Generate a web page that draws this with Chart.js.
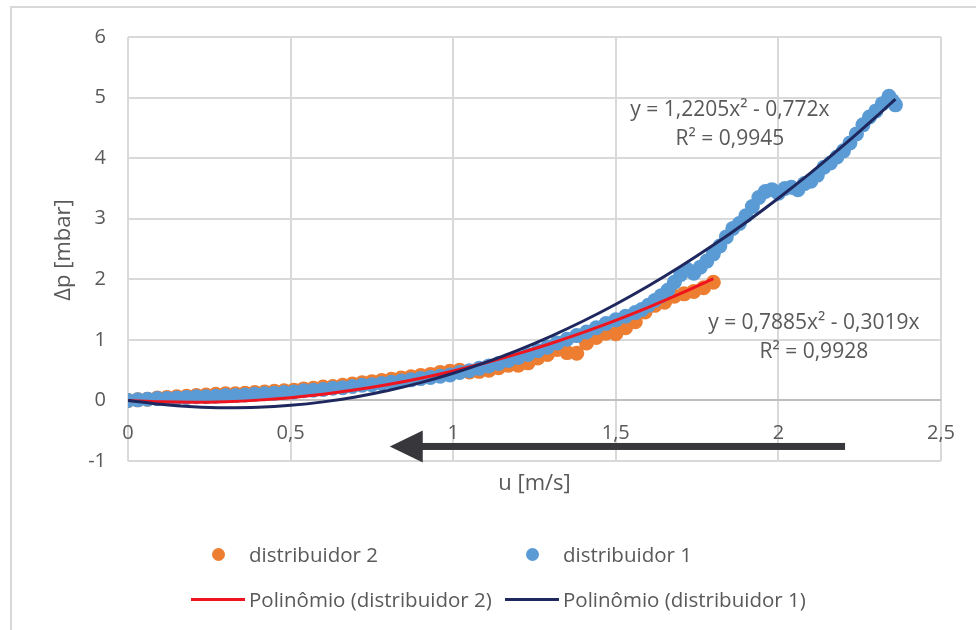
<!DOCTYPE html>
<html>
<head>
<meta charset="utf-8">
<script src="https://cdn.jsdelivr.net/npm/chart.js@4.4.0/dist/chart.umd.min.js"></script>
<style>
  html, body { margin: 0; padding: 0; background: #fff; }
  #wrap { position: relative; width: 976px; height: 630px; overflow: hidden; font-family: 'Open Sans', sans-serif; }
  #frame { position: absolute; left: 10px; top: 6px; width: 1000px; height: 700px; border: 2px solid #d9d9d9; box-sizing: border-box; }
  canvas { position: absolute; left: 0; top: 0; }
  .lg-item { position: absolute; display: flex; align-items: center; height: 28px; color: #595959; font-size: 20.5px; white-space: nowrap; }
  .lg-sym { position: relative; width: 54px; height: 28px; margin-right: 4px; }
  .lg-sym span { position: absolute; }
</style>
</head>
<body>
<div id="wrap">
  <div id="frame"></div>
  <canvas id="chart" width="976" height="630"></canvas>
  <div id="legend"></div>
</div>
<script>
// distribuidor 1 (blue points)
const dist1U = [
  0, 0.03, 0.06, 0.09, 0.12, 0.15, 0.18, 0.21, 0.24, 0.27,
  0.30, 0.33, 0.36, 0.39, 0.42, 0.45, 0.48, 0.51, 0.54, 0.57,
  0.60, 0.63, 0.66, 0.69, 0.72, 0.75, 0.78, 0.81, 0.84, 0.87,
  0.90, 0.93, 0.96, 0.99, 1.02, 1.05, 1.08, 1.11, 1.14, 1.17,
  1.20, 1.23, 1.26, 1.29, 1.32, 1.35, 1.38, 1.41, 1.44, 1.47,
  1.50, 1.53, 1.56, 1.58, 1.60, 1.62, 1.64, 1.66, 1.68, 1.70,
  1.72, 1.74, 1.76, 1.78, 1.80, 1.82, 1.84, 1.86, 1.88, 1.90,
  1.92, 1.94, 1.96, 1.98, 2.00, 2.02, 2.04, 2.06, 2.08, 2.10,
  2.12, 2.14, 2.16, 2.18, 2.20, 2.22, 2.24, 2.26, 2.28, 2.30,
  2.32, 2.34, 2.35, 2.36
];
const dist1Dp = [
  0.00, 0.01, 0.02, 0.03, 0.03, 0.04, 0.05, 0.06, 0.06, 0.07,
  0.08, 0.08, 0.09, 0.10, 0.11, 0.12, 0.13, 0.14, 0.16, 0.17,
  0.18, 0.20, 0.21, 0.23, 0.25, 0.26, 0.28, 0.30, 0.32, 0.34,
  0.36, 0.38, 0.40, 0.42, 0.46, 0.49, 0.53, 0.57, 0.61, 0.66,
  0.71, 0.76, 0.82, 0.88, 0.95, 1.01, 1.07, 1.13, 1.20, 1.27,
  1.33, 1.39, 1.45, 1.50, 1.57, 1.65, 1.73, 1.82, 1.95, 2.08,
  2.16, 2.10, 2.20, 2.30, 2.42, 2.55, 2.70, 2.84, 2.92, 3.05,
  3.20, 3.35, 3.45, 3.48, 3.42, 3.50, 3.52, 3.48, 3.58, 3.62,
  3.72, 3.85, 3.92, 4.02, 4.12, 4.25, 4.40, 4.55, 4.68, 4.78,
  4.90, 5.02, 4.95, 4.88
];

// distribuidor 2 (orange points)
const dist2U = [
  0, 0.03, 0.06, 0.09, 0.12, 0.15, 0.18, 0.21, 0.24, 0.27,
  0.30, 0.33, 0.36, 0.39, 0.42, 0.45, 0.48, 0.51, 0.54, 0.57,
  0.60, 0.63, 0.66, 0.69, 0.72, 0.75, 0.78, 0.81, 0.84, 0.87,
  0.90, 0.93, 0.96, 0.99, 1.02, 1.05, 1.08, 1.11, 1.14, 1.17,
  1.20, 1.23, 1.26, 1.29, 1.32, 1.35, 1.38, 1.41, 1.44, 1.47,
  1.50, 1.53, 1.56, 1.59, 1.62, 1.65, 1.68, 1.71, 1.74, 1.77,
  1.80
];
const dist2Dp = [
  0.00, 0.01, 0.02, 0.04, 0.05, 0.06, 0.07, 0.08, 0.09, 0.10,
  0.11, 0.11, 0.12, 0.13, 0.14, 0.15, 0.16, 0.17, 0.19, 0.20,
  0.22, 0.23, 0.25, 0.27, 0.29, 0.31, 0.33, 0.35, 0.37, 0.39,
  0.41, 0.43, 0.46, 0.48, 0.50, 0.47, 0.48, 0.50, 0.54, 0.58,
  0.58, 0.62, 0.70, 0.76, 0.84, 0.79, 0.78, 0.95, 1.04, 1.11,
  1.10, 1.20, 1.30, 1.46, 1.57, 1.62, 1.72, 1.76, 1.80, 1.86,
  1.95
];

// polynomial trend lines
const fit1U = [0, 0.1, 0.2, 0.3, 0.4, 0.5, 0.6, 0.7, 0.8, 0.9, 1.0, 1.1, 1.2,
  1.3, 1.4, 1.5, 1.6, 1.7, 1.8, 1.9, 2.0, 2.1, 2.2, 2.3, 2.36];
const fit1Dp = [0, -0.065, -0.106, -0.122, -0.114, -0.081, -0.024, 0.058, 0.164,
  0.294, 0.449, 0.628, 0.831, 1.059, 1.311, 1.588, 1.889, 2.215, 2.565, 2.939,
  3.338, 3.761, 4.209, 4.681, 4.976];
const fit2U = [0, 0.1, 0.2, 0.3, 0.4, 0.5, 0.6, 0.7, 0.8, 0.9, 1.0, 1.1, 1.2,
  1.3, 1.4, 1.5, 1.6, 1.7, 1.8];
const fit2Dp = [0, -0.022, -0.029, -0.020, 0.005, 0.046, 0.103, 0.175, 0.263,
  0.367, 0.487, 0.622, 0.773, 0.940, 1.123, 1.321, 1.536, 1.766, 2.011];

const xTicks = [0, 0.5, 1, 1.5, 2, 2.5];
const yTicks = [-1, 0, 1, 2, 3, 4, 5, 6];

const seriesNames = ['distribuidor 2', 'distribuidor 1',
  'Polinômio (distribuidor 2)', 'Polinômio (distribuidor 1)'];
const equationText = [
  ['y = 1,2205x² - 0,772x', 'R² = 0,9945'],
  ['y = 0,7885x² - 0,3019x', 'R² = 0,9928']
];

const textColor = '#595959';
const fontFamily = "'Open Sans', sans-serif";
Chart.defaults.font.family = fontFamily;
Chart.defaults.color = textColor;

function pairs(xs, ys) {
  return xs.map((x, i) => ({ x: x, y: ys[i] }));
}
function fmt(v) {
  return String(v).replace('.', ',');
}

const colors = {
  orange: '#ed7d31',
  blue: '#5b9bd5',
  red: '#f0141e',
  navy: '#1f285e'
};

// trend labels placed at data coordinates
const labelAnchors = [
  { x: 1.851, y: 4.79 },
  { x: 2.109, y: 1.27 }
];
const arrowSpec = { tail: 2.205, tip: 0.805, y: -0.76 };

const overlay = {
  id: 'overlay',
  afterDatasetsDraw(chart) {
    const c = chart.ctx;
    const xs = chart.scales.x, ys = chart.scales.y;
    const area = chart.chartArea;
    c.save();
    // arrow
    const ay = ys.getPixelForValue(arrowSpec.y);
    const tail = xs.getPixelForValue(arrowSpec.tail);
    const tip = xs.getPixelForValue(arrowSpec.tip);
    c.fillStyle = '#38383c';
    c.fillRect(tip + 32, ay - 3.5, tail - tip - 32, 7);
    c.beginPath();
    c.moveTo(tip, ay);
    c.lineTo(tip + 33, ay - 16);
    c.lineTo(tip + 33, ay + 16);
    c.closePath();
    c.fill();

    // equation labels
    c.fillStyle = textColor;
    c.font = '21px ' + fontFamily;
    c.textAlign = 'center';
    c.textBaseline = 'middle';
    labelAnchors.forEach((a, i) => {
      const px = xs.getPixelForValue(a.x);
      const py = ys.getPixelForValue(a.y);
      equationText[i].forEach((t, j) => c.fillText(t, px, py + j * 29));
    });

    // axis titles
    c.font = '22px ' + fontFamily;
    c.fillText('u [m/s]', (area.left + area.right) / 2, area.bottom + 23);
    c.translate(area.left - 64, (area.top + area.bottom) / 2 + 1);
    c.rotate(-Math.PI / 2);
    c.fillText('Δp [mbar]', 0, 0);
    c.restore();
  }
};

const datasets = [
  {
    label: seriesNames[3], data: pairs(fit1U, fit1Dp), showLine: true,
    borderColor: colors.navy, borderWidth: 3, pointRadius: 0, cubicInterpolationMode: 'monotone'
  },
  {
    label: seriesNames[2], data: pairs(fit2U, fit2Dp), showLine: true,
    borderColor: colors.red, borderWidth: 3, pointRadius: 0, cubicInterpolationMode: 'monotone'
  },
  {
    label: seriesNames[1], data: pairs(dist1U, dist1Dp),
    backgroundColor: colors.blue, borderWidth: 0, pointRadius: 7.5
  },
  {
    label: seriesNames[0], data: pairs(dist2U, dist2Dp),
    backgroundColor: colors.orange, borderWidth: 0, pointRadius: 7.5
  }
];

const ctx = document.getElementById('chart').getContext('2d');
new Chart(ctx, {
  type: 'scatter',
  data: { datasets: datasets },
  options: {
    responsive: false,
    animation: false,
    devicePixelRatio: 1,
    layout: { padding: { left: 88, right: 35, top: 37, bottom: 169 } },
    plugins: {
      legend: { display: false },
      tooltip: { enabled: false }
    },
    scales: {
      x: {
        type: 'linear',
        position: { y: 0 },
        min: 0, max: 2.5,
        afterBuildTicks: s => { s.ticks = xTicks.map(v => ({ value: v })); },
        ticks: { padding: 21, color: textColor, font: { size: 20 }, maxRotation: 0, autoSkip: false, callback: v => fmt(v) },
        grid: { color: '#d9d9d9', lineWidth: 2, drawTicks: false },
        border: { display: false }
      },
      y: {
        min: -1, max: 6,
        afterBuildTicks: s => { s.ticks = yTicks.map(v => ({ value: v })); },
        afterFit: s => { s.width = 40; },
        ticks: { padding: 22, color: textColor, font: { size: 20 }, callback: v => fmt(v) },
        grid: {
          color: c => (c.tick && c.tick.value === 0 ? '#bfbfbf' : '#d9d9d9'),
          lineWidth: 2, drawTicks: false
        },
        border: { display: false }
      }
    }
  },
  plugins: [overlay]
});

// legend laid out like the spreadsheet one: two columns, two rows
const legendCols = [191, 505];
const legendRows = [554, 599];
const legendOrder = [3, 2, 1, 0];
const legendBox = document.getElementById('legend');
legendOrder.forEach((di, i) => {
  const ds = datasets[di];
  const item = document.createElement('div');
  item.className = 'lg-item';
  item.style.left = legendCols[i % 2] + 'px';
  item.style.top = (legendRows[Math.floor(i / 2)] - 14) + 'px';
  const sym = document.createElement('div');
  sym.className = 'lg-sym';
  const mark = document.createElement('span');
  if (ds.showLine) {
    mark.style.cssText = 'left:0;top:12.5px;width:54px;height:3px;background:' + ds.borderColor;
  } else {
    mark.style.cssText = 'left:20.5px;top:7.5px;width:13px;height:13px;border-radius:50%;background:' + ds.backgroundColor;
  }
  sym.appendChild(mark);
  const txt = document.createElement('span');
  txt.textContent = ds.label;
  item.appendChild(sym);
  item.appendChild(txt);
  legendBox.appendChild(item);
});
</script>
</body>
</html>
